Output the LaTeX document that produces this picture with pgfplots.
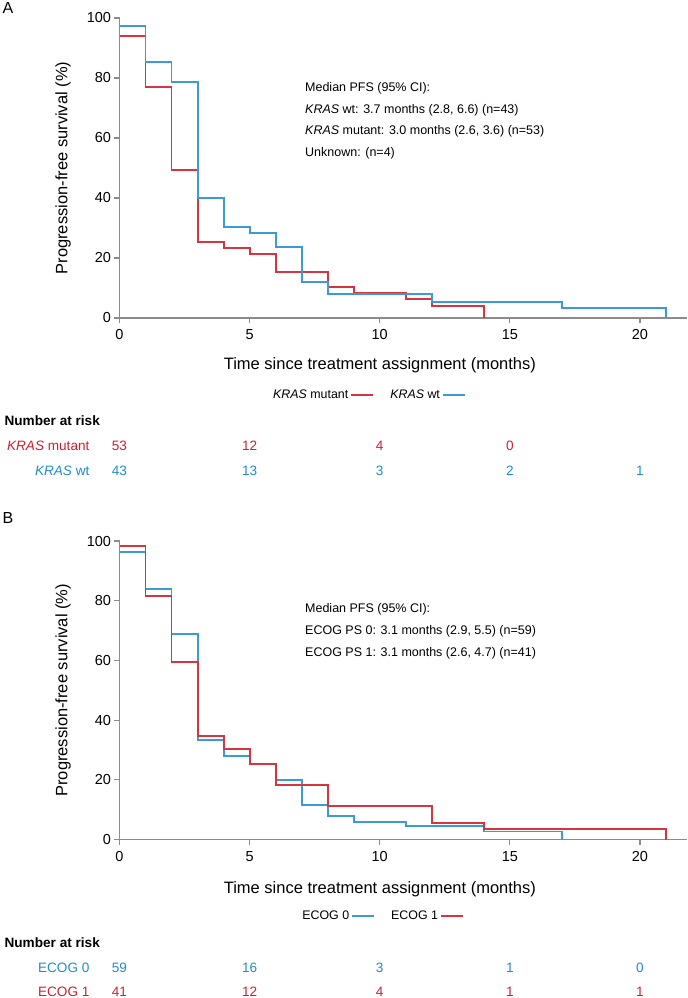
\documentclass[border=0pt]{standalone}
\usepackage{fontspec}
\setmainfont{Liberation Sans}
\usepackage{pgfplots}
\pgfplotsset{compat=1.18}

\definecolor{kmred}{HTML}{D8343F}
\definecolor{kmblue}{HTML}{3A9BD5}
\definecolor{txtred}{HTML}{D01F2E}
\definecolor{txtblue}{HTML}{1F8DCB}
\definecolor{axgray}{HTML}{8C8C8C}

\newcommand\fsTick{\fontsize{14.5bp}{17bp}\selectfont}
\newcommand\fsLab{\fontsize{16.5bp}{20bp}\selectfont}
\newcommand\fsAnn{\fontsize{12.5bp}{15bp}\selectfont}
\newcommand\fsLeg{\fontsize{12.4bp}{15bp}\selectfont}
\newcommand\fsRisk{\fontsize{13.6bp}{16bp}\selectfont}
\newcommand\fsPanel{\fontsize{16bp}{19bp}\selectfont}
\newcommand\rd[1]{\textcolor{txtred}{#1}}
\newcommand\bl[1]{\textcolor{txtblue}{#1}}

\tikzset{
  risk/.style={font=\fsRisk, anchor=center},
  ann/.style={font=\fsAnn, anchor=west},
}
\pgfplotsset{
  km/.style={
    scale only axis, width=567.3bp,
    xmin=0, xmax=21.8, ymin=0, ymax=100,
    axis x line*=bottom, axis y line*=left,
    axis line style={draw=axgray, line width=1.2bp},
    tick align=outside, major tick length=5bp,
    tick style={draw=axgray, line width=1.2bp},
    xtick={0,5,10,15,20}, ytick={0,20,40,60,80,100},
    tick label style={font=\fsTick},
    xticklabel style={yshift=-3bp},
    /pgf/number format/assume math mode=true,
    label style={font=\fsLab},
    ylabel style={at={(axis description cs:-0.0996,0.5)}, anchor=center},
    clip=false,
    legend plot pos=right,
    legend image post style={xscale=1.3},
    legend style={draw=none, fill=none, font=\fsLeg,
      legend columns=2, anchor=center,
      /tikz/every even column/.append style={column sep=14bp}},
  },
  kmstep/.style={const plot, line width=1.9bp, mark=none},
}

\begin{document}
\begin{tikzpicture}
\useasboundingbox (0,0) rectangle (688bp,-998bp);

% ---------- panel A ----------
\begin{axis}[km, height=300bp,
  at={(119.5bp,-318bp)}, anchor=south west,
  xlabel={Time since treatment assignment (months)},
  ylabel={Progression-free survival (\%)},
  xlabel style={at={(axis description cs:0.459,-0.157)}, anchor=center},
  legend style={at={(axis description cs:0.439,-0.257)}},
]
\addplot[kmstep, draw=kmred] coordinates {
(0,94.0) (1,76.9) (2,49.2) (3,25.2) (4,23.2) (5,21.4) (6,15.4)
(8,10.2) (9,8.4) (11,6.2) (12,4.1) (14,4.1) (14,0)};
\addlegendentry{\textit{KRAS} mutant}
\addplot[kmstep, draw=kmblue] coordinates {
(0,97.3) (1,85.4) (2,78.7) (3,39.9) (4,30.4) (5,28.4) (6,23.8)
(7,11.9) (8,7.9) (12,5.3) (17,3.3) (21,3.3) (21,0)};
\addlegendentry{\textit{KRAS} wt}

\node[font=\fsPanel] at (axis cs:-4.29,103.2) {A};
\node[ann] at (axis cs:7.0,76.6) {Median PFS (95\% CI):};
\node[ann] at (axis cs:7.0,69.3) {\textit{KRAS} wt: 3.7 months (2.8, 6.6) (n=43)};
\node[ann] at (axis cs:7.0,62.1) {\textit{KRAS} mutant: 3.0 months (2.6, 3.6) (n=53)};
\node[ann] at (axis cs:7.0,54.9) {Unknown: (n=4)};

% number at risk
\node[font=\fsRisk\bfseries, anchor=west] at (axis cs:-4.55,-34.3) {Number at risk};
\node[risk, anchor=east] at (axis cs:-1.02,-42.7) {\rd{\textit{KRAS} mutant}};
\node[risk, anchor=east] at (axis cs:-1.02,-51.0) {\bl{\textit{KRAS} wt}};
\node[risk] at (axis cs:0,-42.7) {\rd{53}};
\node[risk] at (axis cs:5,-42.7) {\rd{12}};
\node[risk] at (axis cs:10,-42.7) {\rd{4}};
\node[risk] at (axis cs:15,-42.7) {\rd{0}};
\node[risk] at (axis cs:0,-51.0) {\bl{43}};
\node[risk] at (axis cs:5,-51.0) {\bl{13}};
\node[risk] at (axis cs:10,-51.0) {\bl{3}};
\node[risk] at (axis cs:15,-51.0) {\bl{2}};
\node[risk] at (axis cs:20,-51.0) {\bl{1}};
\end{axis}

% ---------- panel B ----------
\begin{axis}[km, height=298.5bp,
  at={(119.5bp,-839.5bp)}, anchor=south west,
  xlabel={Time since treatment assignment (months)},
  ylabel={Progression-free survival (\%)},
  xlabel style={at={(axis description cs:0.459,-0.166)}, anchor=center},
  legend style={at={(axis description cs:0.463,-0.256)}},
]
\addplot[kmstep, draw=kmblue] coordinates {
(0,96.2) (1,83.9) (2,68.9) (3,33.3) (4,28.0) (5,25.2) (6,19.8)
(7,11.5) (8,7.9) (9,6.0) (11,4.4) (14,2.7) (17,2.7) (17,0)};
\addlegendentry{ECOG 0}
\addplot[kmstep, draw=kmred] coordinates {
(0,98.4) (1,81.5) (2,59.5) (3,34.8) (4,30.2) (5,25.2) (6,18.2)
(8,11.1) (12,5.5) (14,3.6) (21,3.6) (21,0)};
\addlegendentry{ECOG 1}

\node[font=\fsPanel] at (axis cs:-4.29,107.6) {B};
\node[ann] at (axis cs:7.0,77.2) {Median PFS (95\% CI):};
\node[ann] at (axis cs:7.0,69.8) {ECOG PS 0: 3.1 months (2.9, 5.5) (n=59)};
\node[ann] at (axis cs:7.0,62.5) {ECOG PS 1: 3.1 months (2.6, 4.7) (n=41)};

\node[font=\fsRisk\bfseries, anchor=west] at (axis cs:-4.55,-34.7) {Number at risk};
\node[risk, anchor=east] at (axis cs:-1.02,-43.0) {\bl{ECOG 0}};
\node[risk, anchor=east] at (axis cs:-1.02,-51.1) {\rd{ECOG 1}};
\node[risk] at (axis cs:0,-43.0) {\bl{59}};
\node[risk] at (axis cs:5,-43.0) {\bl{16}};
\node[risk] at (axis cs:10,-43.0) {\bl{3}};
\node[risk] at (axis cs:15,-43.0) {\bl{1}};
\node[risk] at (axis cs:20,-43.0) {\bl{0}};
\node[risk] at (axis cs:0,-51.1) {\rd{41}};
\node[risk] at (axis cs:5,-51.1) {\rd{12}};
\node[risk] at (axis cs:10,-51.1) {\rd{4}};
\node[risk] at (axis cs:15,-51.1) {\rd{1}};
\node[risk] at (axis cs:20,-51.1) {\rd{1}};
\end{axis}
\end{tikzpicture}
\end{document}
